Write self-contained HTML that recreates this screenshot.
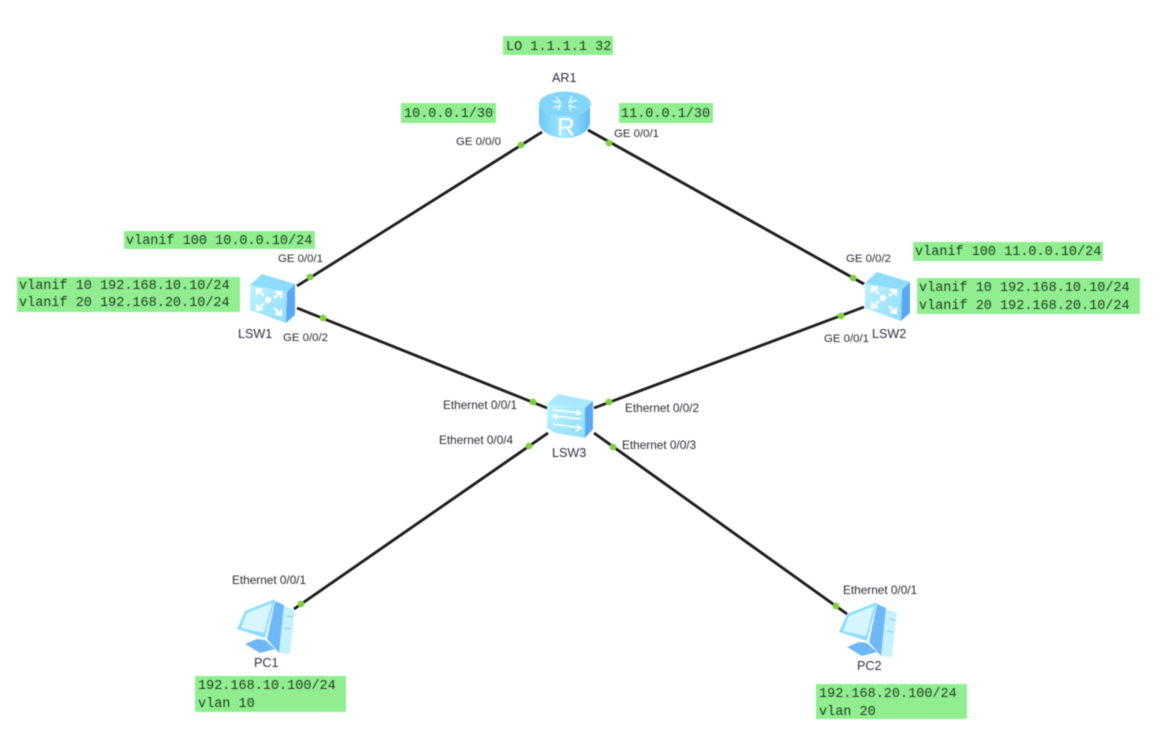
<!DOCTYPE html>
<html><head><meta charset="utf-8"><style>
html,body{margin:0;padding:0;background:#fff;width:1159px;height:742px;overflow:hidden}
svg{display:block;filter:blur(.45px)}
.l{font:11.8px "Liberation Sans",sans-serif;fill:#2a2a33}
.ge{font:11.4px "Liberation Sans",sans-serif;fill:#2a2a33}
.n{font:12.6px "Liberation Sans",sans-serif;fill:#2f3040}
.m{font:13.5px "Liberation Mono",monospace;fill:#1f3d1f}
.g{fill:#90ee90}
.c{stroke:#1a1a1a;stroke-width:2.8;fill:none}
.d{fill:#7ed03c}
</style></head><body>
<svg width="1159" height="742" viewBox="0 0 1159 742" xmlns="http://www.w3.org/2000/svg">
<defs>
<linearGradient id="front" x1="0" y1="0" x2="1" y2="1"><stop offset="0" stop-color="#bff3ff"/><stop offset="1" stop-color="#8fdcff"/></linearGradient>
<linearGradient id="rt" x1="0" y1="0" x2="1" y2="0"><stop offset="0" stop-color="#6cc8f6"/><stop offset=".5" stop-color="#a8e8ff"/><stop offset="1" stop-color="#5fbcf5"/></linearGradient>
<g id="l3">
<path d="M0 11 L37 18 L36 49 L0 36 Z" fill="url(#front)"/>
<path d="M0 11 L12 0 L45 10 L37 18 Z" fill="#8edcfb"/>
<path d="M37 18 L45 10 L45 41 L36 49 Z" fill="#5aa8f2"/>
<g stroke="#fff" stroke-width="2.2" fill="none">
<path d="M7 15 L14 22 M7 21 L7 15 L13 16"/>
<path d="M31 18 L24 24 M31 24 L31 18 L25 18"/>
<path d="M7 36 L14 29 M7 30 L7 36 L13 35"/>
<path d="M31 41 L24 34 M31 35 L31 41 L25 40"/>
</g>
<circle cx="18" cy="26" r="3.2" fill="#fff"/>
</g>
<g id="pc">
<path d="M284 606 L295 610 L290 654 L279 653 Z" fill="#c8f1ff"/>
<path d="M275 601 L284 605 L279 653 L267 639 Z" fill="#6db8f5"/>
<path d="M245 611 L275 599 L265 638 L237 629 Z" fill="#8fdcff"/>
<path d="M247 613 L272 603 L264 633 L241 628 Z" fill="#d8f6ff"/>
<path d="M245 644 L257 639 L265 640 L275 649 L260 653 Z" fill="#6db8f5"/>
<path d="M287 616 L293 617 M285 628 L291 629" stroke="#8fd4fa" stroke-width="1.2"/>
</g>
</defs>

<!-- connectors -->
<g class="c">
<line x1="542" y1="132" x2="297" y2="286"/>
<line x1="588" y1="130" x2="864" y2="284"/>
<line x1="297" y1="308" x2="547" y2="408"/>
<line x1="864" y1="307" x2="594" y2="408"/>
<line x1="548" y1="433" x2="294" y2="609"/>
<line x1="594" y1="433" x2="847" y2="614"/>
</g>

<!-- router AR1 -->
<g>
<path d="M539 104 L539 122 C539 131 551 138 565 138 C579 138 590 131 590 122 L590 104 Z" fill="url(#rt)"/>
<ellipse cx="565" cy="104" rx="26" ry="12.5" fill="#84d6f8"/>
<path d="M553 101 L561 103 M556 97 L561 103 M577 100 L569 103 M572 96 L569 103 M553 108 L561 105 M558 110 L561 105 M576 108 L569 105 M571 111 L569 105" stroke="#d4f4ff" stroke-width="1.8" fill="none"/>
<text x="566" y="135.5" text-anchor="middle" font-family="Liberation Sans, sans-serif" font-size="25" fill="#fff">R</text>
</g>

<use href="#l3" x="250" y="274"/>
<use href="#l3" x="865" y="272"/>

<!-- LSW3 -->
<g>
<path d="M547 404 L585 408 L585 438 L555 433 L547 428 Z" fill="url(#front)"/>
<path d="M547 404 L558 394 L593 401 L585 408 Z" fill="#a9e9ff"/>
<path d="M585 408 L593 401 L593 429 L585 438 Z" fill="#5aa8f2"/>
<g stroke="#fff" stroke-width="1.6" fill="none">
<path d="M553 410 L581 413 M577 410 L581 413 L576 415"/>
<path d="M581 419 L553 416 M557 414 L553 416 L557 419"/>
<path d="M553 424 L581 428 M577 425 L581 428 L576 431"/>
</g>
</g>

<use href="#pc"/>
<use href="#pc" x="602" y="3"/>

<!-- port dots -->
<g class="d">
<circle cx="521" cy="145" r="3.4"/><circle cx="609" cy="143" r="3.4"/>
<circle cx="310" cy="277" r="3.4"/><circle cx="323" cy="318" r="3.4"/>
<circle cx="853" cy="278" r="3.4"/><circle cx="841" cy="316" r="3.4"/>
<circle cx="533" cy="402" r="3.4"/><circle cx="609" cy="402" r="3.4"/>
<circle cx="529" cy="446" r="3.4"/><circle cx="613" cy="447" r="3.4"/>
<circle cx="301" cy="604" r="3.4"/><circle cx="836" cy="606" r="3.4"/>
</g>

<!-- green boxes -->
<rect class="g" x="503" y="36" width="110" height="19"/>
<rect class="g" x="401" y="103" width="95" height="20"/>
<rect class="g" x="619" y="103" width="94" height="20"/>
<rect class="g" x="124" y="231" width="191" height="18"/>
<rect class="g" x="17" y="277" width="223" height="35"/>
<rect class="g" x="913" y="242" width="190" height="19"/>
<rect class="g" x="917" y="278" width="223" height="36"/>
<rect class="g" x="195" y="676" width="151" height="36"/>
<rect class="g" x="816" y="684" width="151" height="35"/>

<g class="m">
<text x="506" y="50">LO 1.1.1.1 32</text>
<text x="404" y="117">10.0.0.1/30</text>
<text x="621" y="117">11.0.0.1/30</text>
<text x="126" y="244">vlanif 100 10.0.0.10/24</text>
<text x="19" y="289">vlanif 10 192.168.10.10/24</text>
<text x="19" y="306">vlanif 20 192.168.20.10/24</text>
<text x="915" y="255">vlanif 100 11.0.0.10/24</text>
<text x="919" y="291">vlanif 10 192.168.10.10/24</text>
<text x="919" y="309">vlanif 20 192.168.20.10/24</text>
<text x="198" y="689">192.168.10.100/24</text>
<text x="198" y="707">vlan 10</text>
<text x="819" y="697">192.168.20.100/24</text>
<text x="819" y="715">vlan 20</text>
</g>

<g class="n">
<text x="552" y="82">AR1</text>
<text x="238" y="338">LSW1</text>
<text x="872" y="338">LSW2</text>
<text x="552" y="457">LSW3</text>
<text x="254" y="667">PC1</text>
<text x="857" y="670">PC2</text>
</g>

<g class="ge">
<text x="456" y="145">GE 0/0/0</text>
<text x="614" y="137">GE 0/0/1</text>
<text x="278" y="262">GE 0/0/1</text>
<text x="283" y="341">GE 0/0/2</text>
<text x="846" y="262">GE 0/0/2</text>
<text x="824" y="342">GE 0/0/1</text>
</g>
<g class="l">
<text x="443" y="409">Ethernet 0/0/1</text>
<text x="625" y="412">Ethernet 0/0/2</text>
<text x="622" y="449">Ethernet 0/0/3</text>
<text x="439" y="444">Ethernet 0/0/4</text>
<text x="232" y="584">Ethernet 0/0/1</text>
<text x="843" y="594">Ethernet 0/0/1</text>
</g>
</svg>
</body></html>
